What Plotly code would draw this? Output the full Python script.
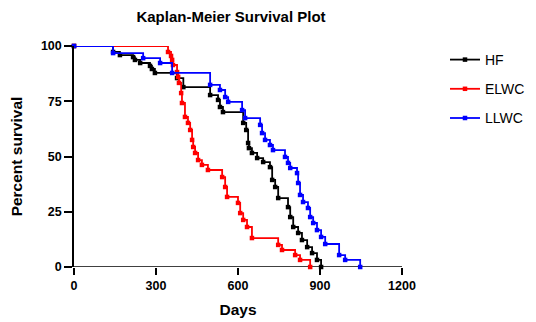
import plotly.graph_objects as go

# ---- data ----
hf_days = [0, 143, 168, 216, 223, 242, 278, 285, 296, 377, 400, 498, 527, 534, 545,
           619, 630, 637, 640, 651, 670, 692, 717, 725, 736, 747, 783, 791, 802, 820,
           834, 853, 871, 889, 904]
hf_surv = [100, 97.3, 95.9, 95.0, 93.7, 92.3, 91.0, 89.6, 87.8, 85.5, 81.4, 77.8, 75.6, 72.4, 70.1,
           65.2, 62.0, 56.1, 53.8, 51.6, 49.3, 47.5, 45.2, 39.4, 36.2, 31.2, 27.1, 22.6, 18.1, 15.4,
           12.2, 9.0, 6.3, 3.2, 0]

elwc_days = [0, 344, 355, 359, 362, 377, 381, 384, 392, 395, 406, 417, 425, 432, 436,
             443, 454, 468, 490, 542, 553, 560, 600, 608, 619, 633, 651, 747, 761, 809,
             827, 864]
elwc_surv = [100, 97.3, 95.5, 93.7, 91.4, 88.2, 86.0, 83.3, 78.7, 74.2, 67.9, 65.2, 62.0, 57.5, 54.3,
             51.6, 48.4, 46.2, 43.9, 40.7, 36.2, 31.7, 29.0, 24.4, 21.3, 18.1, 13.1, 10.0, 7.7, 5.4,
             3.2, 0]

llwc_days = [0, 143, 253, 315, 359, 498, 534, 553, 564, 615, 626, 681, 688, 699, 717,
             728, 772, 783, 791, 816, 820, 827, 838, 856, 864, 875, 889, 904, 919, 970,
             992, 1047]
llwc_surv = [100, 96.8, 94.5, 92.3, 87.8, 82.4, 80.1, 76.9, 74.7, 71.0, 67.4, 64.3, 60.6, 57.5, 55.2,
             52.9, 49.8, 47.1, 44.8, 42.5, 38.0, 32.6, 29.4, 26.7, 22.6, 19.9, 16.7, 13.6, 10.4, 5.4,
             3.2, 0]

series = [
    ("HF", hf_days, hf_surv, "#000000"),
    ("ELWC", elwc_days, elwc_surv, "#ff0000"),
    ("LLWC", llwc_days, llwc_surv, "#0000ff"),
]

x_ticks = [0, 300, 600, 900, 1200]
y_ticks = [0, 25, 50, 75, 100]

FONT = "Liberation Sans, Arial, Helvetica, sans-serif"

fig = go.Figure()
for name, d, s, c in series:
    fig.add_trace(go.Scatter(
        x=d, y=s, name=name, mode="lines+markers",
        line=dict(color=c, width=1.8, shape="hv"),
        marker=dict(color=c, size=4.5, symbol="square"),
        legendgroup=name, cliponaxis=False,
    ))

axis_font = dict(family=FONT, size=12.5, color="#000000")
title_font = dict(family=FONT, size=15.5, color="#000000")

fig.update_layout(
    width=536, height=322,
    margin=dict(l=66, r=142, t=38, b=63, autoexpand=False),
    paper_bgcolor="white", plot_bgcolor="white",
    title=dict(text="<b>Kaplan-Meier Survival Plot</b>", x=223 / 536, xanchor="center",
               y=1 - 9 / 322, yanchor="middle",
               font=dict(family=FONT, size=15, color="#000000")),
    showlegend=True,
    legend=dict(xref="container", yref="container", x=437 / 536, y=1 - 36 / 322,
                xanchor="left", yanchor="top",
                font=dict(family=FONT, size=14, color="#000000"),
                traceorder="grouped", tracegroupgap=8, itemwidth=30,
                bgcolor="rgba(0,0,0,0)"),
    xaxis=dict(range=[0, 1200], tickvals=x_ticks,
               ticktext=["<b>%d</b>" % v for v in x_ticks],
               showgrid=False, zeroline=False, showline=False,
               ticks="outside", ticklen=7, tickwidth=1.5, tickcolor="#000000",
               tickfont=axis_font,
               title=dict(text="<b>Days</b>", font=title_font, standoff=12)),
    yaxis=dict(range=[0, 100], tickvals=y_ticks,
               ticktext=["<b>%d</b>" % v for v in y_ticks],
               showgrid=False, zeroline=False, showline=True, linecolor="#000000", linewidth=1.5,
               ticks="outside", ticklen=8, tickwidth=1.5, tickcolor="#000000",
               tickfont=axis_font,
               title=dict(text="<b>Percent survival</b>", font=title_font, standoff=14)),
)

# Prism-style x axis line extending left to the y tick ends
fig.add_shape(type="line", xref="x domain", yref="y", x0=-8 / 328, x1=1, y0=0, y1=0,
              line=dict(color="#000000", width=1.5), layer="below")

fig.write_html("out.html")
